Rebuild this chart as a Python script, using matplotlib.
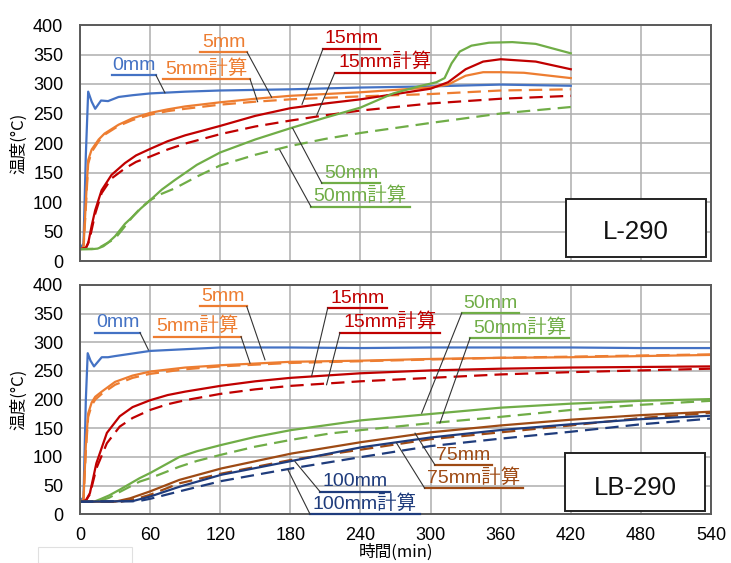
import matplotlib
matplotlib.use("Agg")
import matplotlib.pyplot as plt
from matplotlib.patches import Rectangle

plt.rcParams['font.family'] = ['Liberation Sans', 'Noto Sans CJK JP', 'DejaVu Sans']

# ---------------- data : L-290 (top) ----------------
L_t_0mm = [0, 3, 5, 7, 10, 13, 18, 24, 33, 45, 60, 90, 120, 180, 240, 300, 360, 420]
L_v_0mm = [20, 30, 180, 287, 270, 258, 272, 271, 278, 281, 284, 287, 289, 291, 294, 296, 299, 297]

L_t_5mm = [0, 3, 5, 7, 10, 16, 21, 33, 45, 60, 75, 90, 120, 150, 180, 210, 240, 270, 300, 315, 330, 345, 360, 380, 420]
L_v_5mm = [20, 22, 100, 171, 189, 206, 216, 231, 242, 251, 257, 262, 269, 275, 280, 283, 286, 290, 294, 299, 314, 320, 320, 319, 310]
L_t_5mmc = [0, 3, 5, 7, 10, 16, 21, 33, 45, 60, 75, 90, 120, 150, 180, 240, 300, 360, 420]
L_v_5mmc = [20, 22, 90, 165, 185, 203, 214, 229, 239, 248, 254, 258, 265, 270, 274, 279, 283, 289, 291]

L_t_15mm = [0, 5, 7, 10, 13, 18.5, 27, 38.5, 48, 60, 75, 90, 120, 150, 180, 210, 240, 270, 300, 315, 330, 345, 360, 390, 420]
L_v_15mm = [20, 22, 30, 60, 86, 120, 146, 166, 179, 190, 203, 213, 229, 246, 259, 267, 274, 283, 292, 303, 325, 338, 342, 338, 325]
L_t_15mmc = [0, 5, 8, 13, 18.5, 27, 38.5, 48, 60, 75, 90, 120, 150, 180, 210, 240, 300, 360, 420]
L_v_15mmc = [20, 22, 35, 80, 115, 140, 157, 168, 177, 189, 199, 215, 228, 238, 247, 255, 267, 275, 280]

L_t_50mm = [0, 10, 15, 20, 24, 30, 38.5, 45, 52, 60, 70, 81, 100, 120, 150, 180, 210, 240, 268, 290, 305, 312, 318, 325, 335, 350, 370, 390, 420]
L_v_50mm = [20, 20, 21, 25, 31, 42, 63, 75, 89, 103, 121, 137, 163, 184, 206, 225, 243, 260, 284, 296, 303, 310, 335, 355, 365, 370, 371, 368, 352]
L_t_50mmc = [0, 15, 30, 45, 52, 60, 70, 81, 100, 120, 150, 180, 210, 240, 300, 360, 420]
L_v_50mmc = [20, 21, 38, 75, 90, 103, 114, 123, 143, 162, 180, 195, 207, 217, 234, 250, 261]

# ---------------- data : LB-290 (bottom) ----------------
B_t_0mm = [0, 3, 5, 6.6, 9, 12, 18.6, 24, 30, 60, 120, 180, 240, 300, 360, 420, 480, 540]
B_v_0mm = [22, 30, 200, 281, 268, 258, 274, 274, 276, 285, 291, 291, 290, 291, 291, 291, 290, 290]

B_t_5mm = [0, 3, 5, 7, 10, 13, 18.6, 30, 45, 60, 90, 120, 180, 240, 300, 360, 420, 480, 540]
B_v_5mm = [22, 25, 120, 176, 195, 205, 214, 231, 242, 249, 256, 260, 266, 268, 271, 273, 274, 276, 278]
B_v_5mmc = [22, 24, 110, 170, 190, 200, 210, 226, 238, 245, 253, 258, 264, 267, 270, 273, 275, 277, 279]

B_t_15mm = [0, 5, 8.5, 14, 23, 34, 45, 60, 75, 90, 120, 150, 180, 240, 300, 360, 420, 480, 540]
B_v_15mm = [22, 24, 37, 89, 142, 171, 187, 199, 208, 214, 224, 232, 238, 246, 251, 254, 256, 257, 258]
B_v_15mmc = [22, 24, 35, 80, 124, 153, 168, 182, 192, 199, 210, 218, 224, 232, 238, 244, 248, 251, 254]

B_t_50mm = [0, 12, 17, 25, 34, 51, 60, 85, 100, 121, 150, 181, 241, 300, 360, 420, 480, 540]
B_v_50mm = [22, 22, 26, 33, 43, 63, 72, 100, 110, 121, 135, 147, 164, 175, 186, 193, 198, 201]
B_t_50mmc = [0, 15, 25, 34, 51, 60, 85, 100, 121, 150, 181, 214, 241, 300, 360, 420, 480, 540]
B_v_50mmc = [22, 22, 29, 39, 57, 63, 83, 93, 104, 118, 130, 141, 147, 159, 170, 182, 191, 198]

B_t_75mm = [0, 30, 43, 60, 85, 121, 181, 241, 300, 360, 420, 480, 540]
B_v_75mm = [22, 22, 28, 40, 60, 80, 106, 126, 143, 155, 165, 173, 179]
B_t_75mmc = [0, 35, 50, 60, 85, 121, 181, 241, 300, 360, 420, 480, 540]
B_v_75mmc = [22, 22, 28, 34, 54, 71, 95, 113, 131, 143, 155, 168, 177]

B_t_100mm = [0, 45, 60, 85, 121, 181, 241, 300, 360, 420, 480, 540]
B_v_100mm = [22, 23, 31, 48, 69, 93, 117, 134, 147, 157, 166, 172]
B_t_100mmc = [0, 50, 60, 85, 121, 181, 241, 300, 360, 420, 480, 540]
B_v_100mmc = [22, 23, 27, 40, 58, 80, 100, 119, 132, 144, 157, 167]

x_ticks = [0, 60, 120, 180, 240, 300, 360, 420, 480, 540]
y_ticks = [0, 50, 100, 150, 200, 250, 300, 350, 400]

C_BLUE = '#4472C4'
C_ORANGE = '#ED7D31'
C_RED = '#C00000'
C_GREEN = '#70AD47'
C_BROWN = '#9E4A14'
C_NAVY = '#1F3C7C'

fig = plt.figure(figsize=(7.31, 5.63), dpi=100)
ax1 = fig.add_axes([80/731, 1-261/563, 631/731, 236/563])
ax2 = fig.add_axes([80/731, 1-514.3/563, 631/731, 229.3/563])

DASH = (6.0, 3.2)
LW = 1.6


def style(ax, show_x):
    ax.set_xlim(0, 540)
    ax.set_ylim(0, 400)
    ax.set_xticks(x_ticks)
    ax.set_yticks(y_ticks)
    ax.grid(True, color='#ADADAD', lw=1.1)
    ax.set_axisbelow(True)
    ax.tick_params(length=0, labelsize=13, pad=12, colors='#000000')
    ax.tick_params(axis='x', pad=9)
    if not show_x:
        ax.tick_params(axis='x', labelbottom=False)
    for s in ax.spines.values():
        s.set_color('#5A5A5A')
        s.set_linewidth(1.4)
    ax.set_ylabel('温度(°C)', fontsize=12, family=['Noto Sans CJK JP'], labelpad=4)


style(ax1, False)
style(ax2, True)
fig.text(396/731, 1 - 561/563, '時間(min)', ha='center', va='bottom',
         fontsize=12, family=['Noto Sans CJK JP'])

# top series
ax1.plot(L_t_0mm, L_v_0mm, color=C_BLUE, lw=LW)
ax1.plot(L_t_5mm, L_v_5mm, color=C_ORANGE, lw=LW)
ax1.plot(L_t_5mmc, L_v_5mmc, color=C_ORANGE, lw=LW, dashes=DASH)
ax1.plot(L_t_15mm, L_v_15mm, color=C_RED, lw=LW)
ax1.plot(L_t_15mmc, L_v_15mmc, color=C_RED, lw=LW, dashes=DASH)
ax1.plot(L_t_50mm, L_v_50mm, color=C_GREEN, lw=LW)
ax1.plot(L_t_50mmc, L_v_50mmc, color=C_GREEN, lw=LW, dashes=DASH)

# bottom series
ax2.plot(B_t_0mm, B_v_0mm, color=C_BLUE, lw=LW)
ax2.plot(B_t_5mm, B_v_5mm, color=C_ORANGE, lw=LW)
ax2.plot(B_t_5mm, B_v_5mmc, color=C_ORANGE, lw=LW, dashes=DASH)
ax2.plot(B_t_15mm, B_v_15mm, color=C_RED, lw=LW)
ax2.plot(B_t_15mm, B_v_15mmc, color=C_RED, lw=LW, dashes=DASH)
ax2.plot(B_t_50mm, B_v_50mm, color=C_GREEN, lw=LW)
ax2.plot(B_t_50mmc, B_v_50mmc, color=C_GREEN, lw=LW, dashes=DASH)
ax2.plot(B_t_75mm, B_v_75mm, color=C_BROWN, lw=LW)
ax2.plot(B_t_75mmc, B_v_75mmc, color=C_BROWN, lw=LW, dashes=DASH)
ax2.plot(B_t_100mm, B_v_100mm, color=C_NAVY, lw=LW)
ax2.plot(B_t_100mmc, B_v_100mmc, color=C_NAVY, lw=LW, dashes=DASH)

LABEL_FONT = ['Liberation Sans', 'Noto Sans CJK JP']


def label(ax, text, color, x1, x2, y, anchor_end, tip):
    ax.plot([x1, x2], [y, y], color=color, lw=1.6, clip_on=False, zorder=5)
    ax.annotate(text, xy=((x1 + x2) / 2, y), xytext=(0, 1), textcoords='offset points',
                ha='center', va='bottom', color=color, fontsize=14,
                family=LABEL_FONT, annotation_clip=False, zorder=6)
    sx = x2 if anchor_end == 'r' else x1
    ax.plot([sx, tip[0]], [y, tip[1]], color='#333333', lw=0.8, clip_on=False, zorder=5)


# top labels
label(ax1, '0mm', C_BLUE, 27.4, 65, 315, 'r', (72.7, 285))
label(ax1, '5mm', C_ORANGE, 102.7, 143, 354, 'r', (164, 277.5))
label(ax1, '5mm計算', C_ORANGE, 71, 145.5, 308.5, 'r', (152, 270))
label(ax1, '15mm', C_RED, 208, 256.7, 360, 'l', (190, 265.6))
label(ax1, '15mm計算', C_RED, 218, 304, 319, 'l', (202.6, 247))
label(ax1, '50mm', C_GREEN, 207, 257, 131.7, 'l', (182, 225))
label(ax1, '50mm計算', C_GREEN, 197.7, 282, 92, 'l', (171, 188))

# bottom labels
label(ax2, '0mm', C_BLUE, 12.8, 51.3, 317, 'r', (58.5, 287))
label(ax2, '5mm', C_ORANGE, 102.7, 142.7, 362.6, 'r', (158.3, 269.5))
label(ax2, '5mm計算', C_ORANGE, 63.3, 137.8, 310, 'r', (145.5, 263.8))
label(ax2, '15mm', C_RED, 212, 262.5, 359.8, 'l', (198.3, 241.6))
label(ax2, '15mm計算', C_RED, 222.5, 308, 317, 'l', (211, 226))
label(ax2, '50mm', C_GREEN, 326.7, 375.7, 351, 'l', (292.4, 176.4))
label(ax2, '50mm計算', C_GREEN, 333.8, 418.5, 307.4, 'l', (308, 159))
label(ax2, '75mm', C_BROWN, 303.8, 352.6, 86, 'l', (286.7, 141.5))
label(ax2, '75mm計算', C_BROWN, 295, 379, 45.4, 'l', (271, 124))
label(ax2, '100mm', C_NAVY, 205.4, 265.3, 39.5, 'l', (184, 92))
label(ax2, '100mm計算', C_NAVY, 196.8, 291, 0.5, 'l', (178, 77.4))

# specimen boxes
for ax, name, (bx0, by0, bx1, by1), ty in [
        (ax1, 'L-290', (0.7697, 0.017, 0.992, 0.263), 0.123),
        (ax2, 'LB-290', (0.7686, 0.0144, 0.9905, 0.267), 0.115)]:
    ax.add_patch(Rectangle((bx0, by0), bx1 - bx0, by1 - by0, transform=ax.transAxes,
                           facecolor='white', edgecolor='#222222', lw=1.4, zorder=7))
    ax.text((bx0 + bx1) / 2, ty, name, transform=ax.transAxes, ha='center', va='center',
            fontsize=18.5, color='#111111', zorder=8)

# faint leftover box at bottom-left
fig.patches.append(Rectangle((38/731, 0), 94/731, 16/563, transform=fig.transFigure,
                             facecolor='white', edgecolor='#E0E0E0', lw=0.8))

fig.savefig('out.png', dpi=100)
